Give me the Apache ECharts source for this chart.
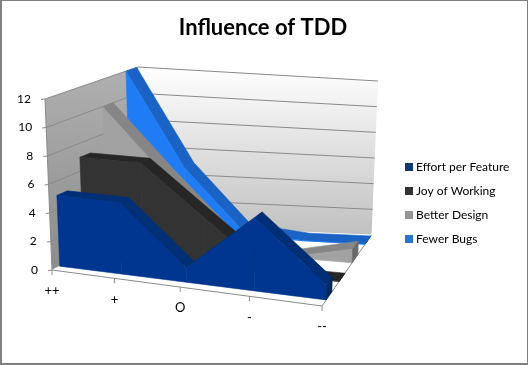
<!DOCTYPE html>
<html><head><meta charset="utf-8">
<style>html,body{margin:0;padding:0;background:#fff}#c{width:528px;height:365px;box-sizing:border-box;border:solid #808080;border-width:1px 1px 2px 2px}</style>
<script src="https://cdn.jsdelivr.net/npm/echarts@6/dist/echarts.min.js"></script>
</head><body><div id="c"></div>
<script>
const categories = ['++', '+', 'O', '-', '--'];
const yTicks = [0, 2, 4, 6, 8, 10, 12];
const effort = [5, 5, 1, 5, 1];
const joy = [7, 7, 3.5, 0, 0];
const design = [10, 5.5, 1.2, 0, 1];
const bugs = [12, 5, 0.5, 0, 0];

const chart = echarts.init(document.getElementById('c'), null, {renderer: 'canvas'});
const FONT = 'Lato';
const OX = -2, OY = -1; // container border offset
const G = {l: 100, t: 100, w: 300, h: 200};

// projection: floor and ceiling quadrilaterals of the 3D box (fl, fr, br, bl)
function bilin(q) {
  const [a, b, c, d] = q;
  return (u, v) => [0, 1].map(k => (1 - v) * ((1 - u) * a[k] + u * b[k]) + v * ((1 - u) * d[k] + u * c[k]));
}
const floorH = bilin([[52 + OX, 270 + OY], [322 + OX, 306 + OY], [371.5 + OX, 235 + OY], [143 + OX, 225 + OY]]);
const ceilH = bilin([[45 + OX, 99 + OY], [326 + OX, 128 + OY], [378 + OX, 81 + OY], [138 + OX, 67 + OY]]);
function proj(u, t, z) {
  const w = u - 0.1 * u * (1 - u);
  const a = floorH(w, z), b = ceilH(w, z);
  return [a[0] + (b[0] - a[0]) * t, a[1] + (b[1] - a[1]) * t];
}
// turn an axis-scaled flat point into the projected one
function P(api, i, val, z) {
  const c = api.coord([i, val]);
  return proj((c[0] - G.l) / G.w, (G.t + G.h - c[1]) / G.h, z);
}
const poly = (points, fill, stroke) => ({type: 'polygon', shape: {points}, style: {fill, stroke: stroke || fill, lineWidth: 0.6}});
const line = (a, b, stroke, w) => ({type: 'line', shape: {x1: a[0], y1: a[1], x2: b[0], y2: b[1]}, style: {stroke, lineWidth: w || 1}});

function areaSeries(name, values, slot, face, top, cap) {
  const z0 = 0.085 + slot * 0.262, z1 = z0 + 0.115;
  return {
    name, type: 'custom', coordinateSystem: 'cartesian2d', clip: false, silent: true,
    itemStyle: {color: face},
    encode: {x: 0, y: 1},
    data: values.map((v, i) => [i, v]),
    renderItem(params, api) {
      const i = api.value(0), v = api.value(1);
      const kids = [];
      if (i < values.length - 1) {
        const n = values[i + 1];
        kids.push(poly([P(api, i, v, z0), P(api, i + 1, n, z0), P(api, i + 1, n, z1), P(api, i, v, z1)], top));
        kids.push(poly([P(api, i, 0, z0), P(api, i + 1, 0, z0), P(api, i + 1, n, z0), P(api, i, v, z0)], face));
      } else {
        kids.push(poly([P(api, i, 0, z0), P(api, i, 0, z1), P(api, i, v, z1), P(api, i, v, z0)], cap));
      }
      return {type: 'group', children: kids};
    }
  };
}

const frame = {
  name: 'frame', type: 'custom', coordinateSystem: 'cartesian2d', clip: false, silent: true, z: 0,
  encode: {x: 0, y: 1},
  data: yTicks.map(t => [0, t]),
  renderItem(params, api) {
    const t = api.value(1), kids = [], last = categories.length - 1, top = yTicks[yTicks.length - 1];
    if (params.dataIndex === 0) {
      kids.push({type: 'polygon', shape: {points: [P(api, 0, 0, 1), P(api, last, 0, 1), P(api, last, top, 1), P(api, 0, top, 1)]},
        style: {fill: {type: 'linear', x: 0, y: 0, x2: 0, y2: 1, colorStops: [{offset: 0, color: '#ffffff'}, {offset: 1, color: '#c0c0c0'}]}}});
      kids.push({type: 'polygon', shape: {points: [P(api, 0, 0, 0), P(api, 0, 0, 1), P(api, 0, top, 1), P(api, 0, top, 0)]},
        style: {fill: {type: 'linear', x: 0, y: 0, x2: 0, y2: 1, colorStops: [{offset: 0, color: '#b0b0b0'}, {offset: 1, color: '#8c8c8c'}]}}});
      kids.push(poly([P(api, 0, 0, 0), P(api, last, 0, 0), P(api, last, 0, 1), P(api, 0, 0, 1)], '#ffffff'));
      kids.push(line(P(api, 0, 0, 0), P(api, last, 0, 0), '#8a8a8a'));
      kids.push(line(P(api, last, 0, 0), P(api, last, 0, 1), '#8a8a8a'));
      kids.push(line(P(api, 0, 0, 0), P(api, 0, top, 0), '#8a8a8a'));
      categories.forEach((c, i) => {
        const a = P(api, i, 0, 0);
        kids.push(line(a, [a[0], a[1] + 5], '#8a8a8a'));
        kids.push({type: 'text', style: {text: c, x: a[0], y: a[1] + 21, align: 'center', verticalAlign: 'middle', font: '13px ' + FONT, fill: '#000'}});
      });
    }
    const a = P(api, 0, t, 0), b = P(api, 0, t, 1), c = P(api, last, t, 1);
    if (t > 0) { kids.push(line(a, b, '#8a8a8a')); kids.push(line(b, c, '#8a8a8a')); }
    kids.push(line([a[0] - 4, a[1] + 0.5], a, '#8a8a8a'));
    kids.push({type: 'text', style: {text: String(t), x: a[0] - 14, y: a[1], align: 'right', verticalAlign: 'middle', font: '12px ' + FONT, fill: '#000'}});
    return {type: 'group', children: kids};
  }
};

chart.setOption({
  animation: false,
  backgroundColor: '#fff',
  title: {text: 'Influence of TDD', left: 256, top: 11, textAlign: 'center',
    textStyle: {fontFamily: FONT, fontWeight: 'bold', fontSize: 22, color: '#000'}},
  grid: {left: G.l, top: G.t, width: G.w, height: G.h},
  xAxis: {type: 'category', data: categories, boundaryGap: false, show: false},
  yAxis: {type: 'value', min: 0, max: 12, interval: 2, show: false},
  legend: {orient: 'vertical', left: 398, top: 154, itemWidth: 8, itemHeight: 8, itemGap: 10, icon: 'rect',
    textStyle: {fontFamily: FONT, fontSize: 12, color: '#000', height: 14, lineHeight: 14, padding: [0, 0, 0, -2]},
    data: [
      {name: 'Effort per Feature', itemStyle: {color: '#0f3a70'}},
      {name: 'Joy of Working', itemStyle: {color: '#333333'}},
      {name: 'Better Design', itemStyle: {color: '#969696'}},
      {name: 'Fewer Bugs', itemStyle: {color: '#2a74d0'}}
    ]},
  series: [
    frame,
    areaSeries('Fewer Bugs', bugs, 3, '#1f7cf5', '#1a62c4', '#154f9e'),
    areaSeries('Better Design', design, 2, '#a2a2a2', '#868686', '#6a6a6a'),
    areaSeries('Joy of Working', joy, 1, '#333333', '#262626', '#1c1c1c'),
    areaSeries('Effort per Feature', effort, 0, '#00368f', '#002f75', '#00275f')
  ]
});
</script></body></html>
